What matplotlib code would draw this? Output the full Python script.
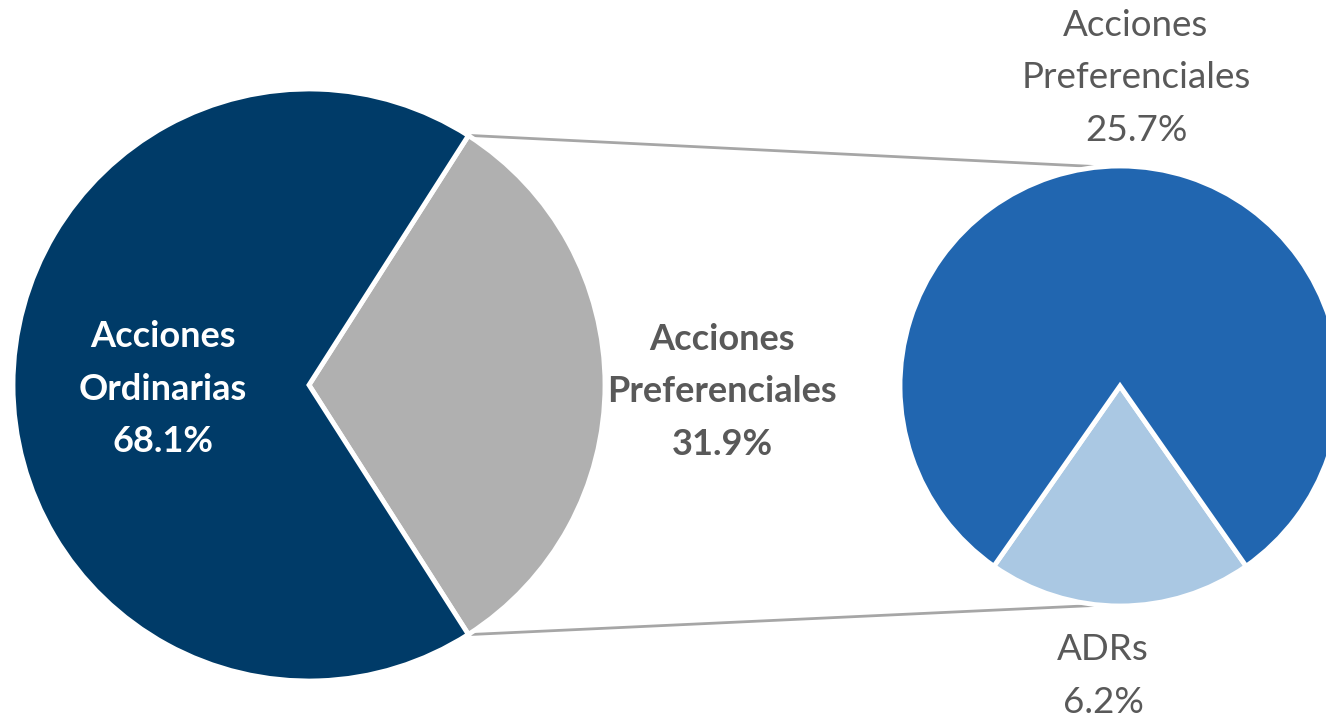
import matplotlib.pyplot as plt
import numpy as np

# composición de la emisión
main_labels = ['Acciones\nPreferenciales', 'Acciones\nOrdinarias']
main_values = [31.9, 68.1]
main_colors = ['#B0B0B0', '#003B68']

sub_labels = ['ADRs', 'Acciones\nPreferenciales']
sub_values = [6.2, 25.7]
sub_colors = ['#AAC8E3', '#2166B0']

W, H = 1326, 717
fig = plt.figure(figsize=(W / 100, H / 100), dpi=100)
ax = fig.add_axes([0, 0, 1, 1])

plt.rcParams['font.family'] = ['Lato', 'DejaVu Sans']

c1, r1 = (309, 332), 296
c2, r2 = (1120, 331), 220

# pastel principal: la porción preferencial queda centrada a la derecha
span1 = 360 * main_values[0] / sum(main_values)
ax.pie(main_values, colors=main_colors, startangle=-span1 / 2, center=c1, radius=r1,
       wedgeprops=dict(edgecolor='white', linewidth=3.5), frame=True)

# pastel secundario: desglose de las preferenciales, ADRs abajo
span2 = 360 * sub_values[0] / sum(sub_values)
ax.pie(sub_values, colors=sub_colors, startangle=270 - span2 / 2, center=c2, radius=r2,
       wedgeprops=dict(edgecolor='white', linewidth=3.5), frame=True)
ax.set_xlim(0, W)
ax.set_ylim(0, H)
ax.set_aspect('equal')
ax.axis('off')

# líneas de conexión entre ambos pasteles
a1 = np.deg2rad(span1 / 2)
for sgn, a2 in [(1, 95), (-1, 265)]:
    x0 = c1[0] + r1 * np.cos(a1) + 4
    y0 = c1[1] + sgn * r1 * np.sin(a1)
    x1 = c2[0] + r2 * np.cos(np.deg2rad(a2))
    y1 = c2[1] + r2 * np.sin(np.deg2rad(a2))
    ax.plot([x0, x1], [y0, y1], color='#A6A6A6', lw=2, zorder=0)

# etiquetas
ax.text(163, H - 389, f'{main_labels[1]}\n{main_values[1]}%', color='white', fontsize=26,
        fontweight='bold', ha='center', va='center', linespacing=1.72)
ax.text(722, H - 392, f'{main_labels[0]}\n{main_values[0]}%', color='#595959', fontsize=26,
        fontweight='bold', ha='center', va='center', linespacing=1.72)
ax.text(1136, H - 78, f'{sub_labels[1]}\n{sub_values[1]}%', color='#595959', fontsize=26.5,
        ha='center', va='center', linespacing=1.72)
ax.text(1103, H - 676, f'{sub_labels[0]}\n{sub_values[0]}%', color='#595959', fontsize=26.5,
        ha='center', va='center', linespacing=1.72)

fig.savefig('out.png', dpi=100)
